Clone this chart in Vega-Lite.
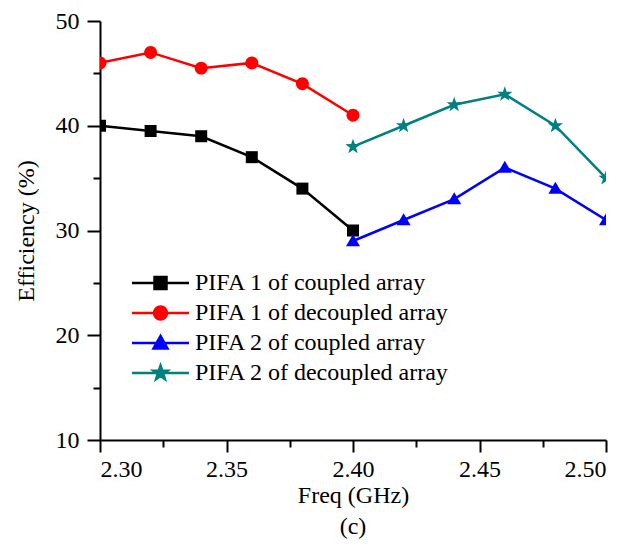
{
  "$schema": "https://vega.github.io/schema/vega-lite/v6.json",
  "width": 506,
  "height": 419,
  "autosize": {"type": "none"},
  "padding": {"left": 100, "top": 21, "right": 26, "bottom": 106},
  "title": {"text": "(c)", "orient": "bottom", "font": "Liberation Serif", "fontSize": 24, "fontWeight": "normal", "color": "#000000", "offset": 8},
  "config": {
    "view": {"stroke": null},
    "font": "Liberation Serif",
    "axis": {"labelFont": "Liberation Serif", "titleFont": "Liberation Serif", "labelColor": "#000000", "titleColor": "#000000", "domainColor": "#000000", "tickColor": "#000000", "grid": false, "titleFontWeight": "normal"},
    "legend": {"labelFont": "Liberation Serif", "labelColor": "#000000"}
  },
  "data": {
    "values": [
      {"series": "PIFA 1 of coupled array", "freq": 2.30, "eff": 40},
      {"series": "PIFA 1 of coupled array", "freq": 2.32, "eff": 39.5},
      {"series": "PIFA 1 of coupled array", "freq": 2.34, "eff": 39},
      {"series": "PIFA 1 of coupled array", "freq": 2.36, "eff": 37},
      {"series": "PIFA 1 of coupled array", "freq": 2.38, "eff": 34},
      {"series": "PIFA 1 of coupled array", "freq": 2.40, "eff": 30},
      {"series": "PIFA 1 of decoupled array", "freq": 2.30, "eff": 46},
      {"series": "PIFA 1 of decoupled array", "freq": 2.32, "eff": 47},
      {"series": "PIFA 1 of decoupled array", "freq": 2.34, "eff": 45.5},
      {"series": "PIFA 1 of decoupled array", "freq": 2.36, "eff": 46},
      {"series": "PIFA 1 of decoupled array", "freq": 2.38, "eff": 44},
      {"series": "PIFA 1 of decoupled array", "freq": 2.40, "eff": 41},
      {"series": "PIFA 2 of coupled array", "freq": 2.40, "eff": 29},
      {"series": "PIFA 2 of coupled array", "freq": 2.42, "eff": 31},
      {"series": "PIFA 2 of coupled array", "freq": 2.44, "eff": 33},
      {"series": "PIFA 2 of coupled array", "freq": 2.46, "eff": 36},
      {"series": "PIFA 2 of coupled array", "freq": 2.48, "eff": 34},
      {"series": "PIFA 2 of coupled array", "freq": 2.50, "eff": 31},
      {"series": "PIFA 2 of decoupled array", "freq": 2.40, "eff": 38},
      {"series": "PIFA 2 of decoupled array", "freq": 2.42, "eff": 40},
      {"series": "PIFA 2 of decoupled array", "freq": 2.44, "eff": 42},
      {"series": "PIFA 2 of decoupled array", "freq": 2.46, "eff": 43},
      {"series": "PIFA 2 of decoupled array", "freq": 2.48, "eff": 40},
      {"series": "PIFA 2 of decoupled array", "freq": 2.50, "eff": 35}
    ]
  },
  "layer": [
    {
      "mark": {"type": "line", "strokeWidth": 2.5, "clip": true},
      "encoding": {
        "x": {"field": "freq", "type": "quantitative", "scale": {"domain": [2.3, 2.5], "nice": false, "zero": false},
          "axis": {"orient": "bottom", "values": [2.3, 2.325, 2.35, 2.375, 2.4, 2.425, 2.45, 2.475, 2.5],
            "labelExpr": "abs(datum.value * 20 - round(datum.value * 20)) < 0.01 ? format(datum.value, '.2f') : ''",
            "tickSize": {"condition": {"test": "abs(datum.value * 20 - round(datum.value * 20)) < 0.01", "value": 12}, "value": 7},
            "tickWidth": 2, "domainWidth": 2, "labelFont": "Liberation Serif", "labelFontSize": 24, "labelPadding": 5,
            "title": "Freq (GHz)", "titleFont": "Liberation Serif", "titleFontSize": 24, "titlePadding": 2}},
        "y": {"field": "eff", "type": "quantitative", "scale": {"domain": [10, 50], "nice": false, "zero": false},
          "axis": {"orient": "left", "values": [10, 15, 20, 25, 30, 35, 40, 45, 50],
            "labelExpr": "datum.value % 10 === 0 ? datum.label : ''",
            "tickSize": {"condition": {"test": "datum.value % 10 === 0", "value": 13}, "value": 7},
            "tickWidth": 2, "domainWidth": 2, "labelFont": "Liberation Serif", "labelFontSize": 24, "labelPadding": 8,
            "title": "Efficiency (%)", "titleFont": "Liberation Serif", "titleFontSize": 24, "titlePadding": 17}},
        "color": {"field": "series", "type": "nominal", "legend": null,
          "scale": {"domain": ["PIFA 1 of coupled array", "PIFA 1 of decoupled array", "PIFA 2 of coupled array", "PIFA 2 of decoupled array"], "range": ["#000000", "#ff0000", "#0000ff", "#008080"]}},
        "order": {"field": "freq", "type": "quantitative"}
      }
    },
    {
      "mark": {"type": "point", "filled": true, "opacity": 1, "size": 256, "clip": true},
      "encoding": {
        "x": {"field": "freq", "type": "quantitative"},
        "y": {"field": "eff", "type": "quantitative"},
        "color": {"field": "series", "type": "nominal", "legend": null},
        "shape": {"field": "series", "type": "nominal", "legend": null,
          "scale": {"domain": ["PIFA 1 of coupled array", "PIFA 1 of decoupled array", "PIFA 2 of coupled array", "PIFA 2 of decoupled array"],
            "range": [
              "M-0.75,-0.75H0.75V0.75H-0.75Z",
              "M0.81,0A0.81,0.81,0,1,1,-0.81,0A0.81,0.81,0,1,1,0.81,0Z",
              "M0,-0.85L0.875,0.65H-0.875Z",
              "M0,-1L0.235,-0.324L0.951,-0.309L0.38,0.124L0.588,0.809L0,0.4L-0.588,0.809L-0.38,0.124L-0.951,-0.309L-0.235,-0.324Z"
            ]}}
      }
    },
    {
      "transform": [{"filter": "false"}],
      "mark": {"type": "point", "filled": true, "opacity": 1},
      "encoding": {
        "x": {"field": "freq", "type": "quantitative"},
        "y": {"field": "eff", "type": "quantitative"},
        "fill": {"field": "series", "type": "nominal", "title": null,
          "scale": {"domain": ["PIFA 1 of coupled array", "PIFA 1 of decoupled array", "PIFA 2 of coupled array", "PIFA 2 of decoupled array"], "range": ["#000000", "#ff0000", "#0000ff", "#008080"]},
          "legend": {"orient": "none", "legendX": 45.5, "legendY": 247, "labelFont": "Liberation Serif", "labelFontSize": 24, "symbolSize": 729, "symbolStrokeWidth": 2.5, "symbolOpacity": 1, "labelOffset": 19.5, "rowPadding": 3, "labelLimit": 400}},
        "stroke": {"field": "series", "type": "nominal", "title": null,
          "scale": {"domain": ["PIFA 1 of coupled array", "PIFA 1 of decoupled array", "PIFA 2 of coupled array", "PIFA 2 of decoupled array"], "range": ["#000000", "#ff0000", "#0000ff", "#008080"]},
          "legend": {"orient": "none", "legendX": 45.5, "legendY": 247, "labelFont": "Liberation Serif", "labelFontSize": 24, "symbolSize": 729, "symbolStrokeWidth": 2.5, "symbolOpacity": 1, "labelOffset": 19.5, "rowPadding": 3, "labelLimit": 400}},
        "shape": {"field": "series", "type": "nominal", "title": null,
          "scale": {"domain": ["PIFA 1 of coupled array", "PIFA 1 of decoupled array", "PIFA 2 of coupled array", "PIFA 2 of decoupled array"],
            "range": [
              "M-2.11,0H2.11M-0.444,-0.444H0.444V0.444H-0.444Z",
              "M-2.11,0H2.11M0.48,0A0.48,0.48,0,1,1,-0.48,0A0.48,0.48,0,1,1,0.48,0Z",
              "M-2.11,0H2.11M0,-0.52L0.52,0.41H-0.52Z",
              "M-2.11,0H2.11M0,-0.556L0.131,-0.18L0.529,-0.172L0.211,0.069L0.327,0.45L0,0.222L-0.327,0.45L-0.211,0.069L-0.529,-0.172L-0.131,-0.18Z"
            ]},
          "legend": {"orient": "none", "legendX": 45.5, "legendY": 247, "labelFont": "Liberation Serif", "labelFontSize": 24, "symbolSize": 729, "symbolStrokeWidth": 2.5, "symbolOpacity": 1, "labelOffset": 19.5, "rowPadding": 3, "labelLimit": 400}}
      }
    }
  ],
  "resolve": {
    "scale": {"shape": "independent", "fill": "independent", "stroke": "independent"}
  }
}
